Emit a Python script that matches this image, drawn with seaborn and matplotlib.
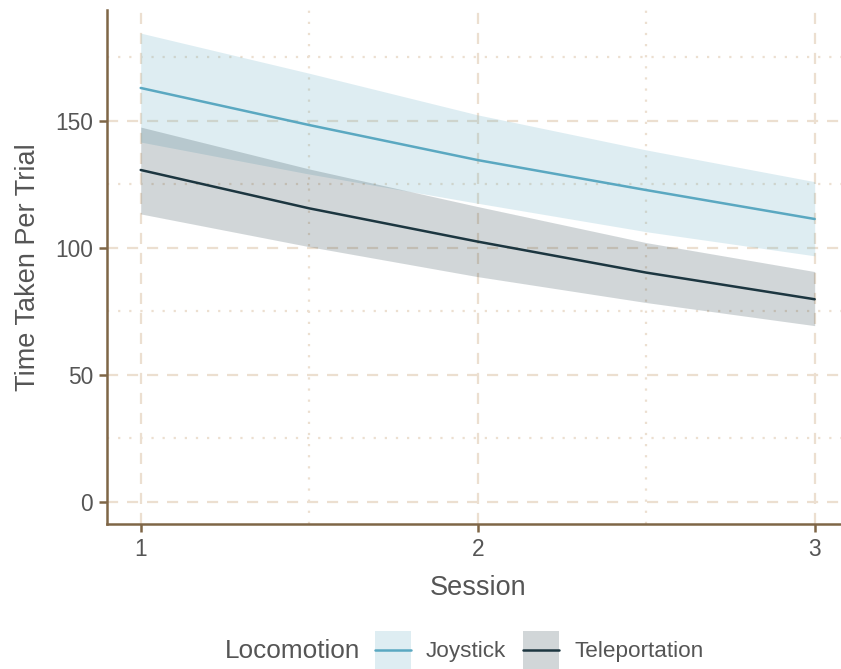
import numpy as np
import pandas as pd
import matplotlib
matplotlib.use("Agg")
import matplotlib.pyplot as plt
import seaborn as sns
from matplotlib.lines import Line2D
from matplotlib.patches import Patch
from matplotlib.legend_handler import HandlerTuple, HandlerLine2D

# ---- data ----
session = [1, 1.5, 2, 2.5, 3]
joy_mean = [163.0, 148.4, 134.6, 122.8, 111.4]
joy_low = [141.7, 129.1, 117.6, 106.4, 96.9]
joy_high = [184.6, 168.8, 152.4, 138.6, 126.1]
tel_mean = [130.7, 115.6, 102.5, 90.3, 79.8]
tel_low = [113.4, 100.5, 88.7, 78.5, 69.4]
tel_high = [147.6, 131.1, 116.3, 102.1, 90.7]
groups = ["Joystick", "Teleportation"]
colors = {"Joystick": "#5aa8c1", "Teleportation": "#1c3640"}
x_ticks = [1, 2, 3]
y_ticks = [0, 50, 100, 150]

df = pd.DataFrame({
    "Session": session * 2,
    "Time": joy_mean + tel_mean,
    "Low": joy_low + tel_low,
    "High": joy_high + tel_high,
    "Locomotion": ["Joystick"] * len(session) + ["Teleportation"] * len(session),
})

sns.set_theme(style="white")
plt.rcParams["font.family"] = ["Liberation Sans", "DejaVu Sans"]

W, H = 841, 669
fig = plt.figure(figsize=(W / 100, H / 100), dpi=100)
x0, x1 = 0.9, 3.1
y0, y1 = -8.7, 193.7
left_px, bottom_px, top_px = 107, 524, 10
width_px = (x1 - x0) * 337
ax = fig.add_axes([left_px / W, 1 - bottom_px / H, width_px / W, (bottom_px - top_px) / H])

grid_col = "#ecdfd0"
for v in [1, 2, 3]:
    ax.axvline(v, color=grid_col, lw=1.6, ls=(0, (5, 4)), zorder=0)
for v in [1.5, 2.5]:
    ax.axvline(v, color=grid_col, lw=1.6, ls=(0, (1, 4)), zorder=0)
for v in [0, 50, 100, 150]:
    ax.axhline(v, color=grid_col, lw=1.6, ls=(0, (5, 4)), zorder=0)
for v in [25, 75, 125, 175]:
    ax.axhline(v, color=grid_col, lw=1.6, ls=(0, (1, 4)), zorder=0)

for g in groups:
    sub = df[df["Locomotion"] == g]
    ax.fill_between(sub["Session"], sub["Low"], sub["High"], color=colors[g], alpha=0.2, lw=0, zorder=1)

sns.lineplot(data=df, x="Session", y="Time", hue="Locomotion", palette=colors,
             ax=ax, lw=1.8, legend=False, zorder=2)

ax.set_xlim(x0, x1)
ax.set_ylim(y0, y1)
ax.set_xticks(x_ticks)
ax.set_yticks(y_ticks)
ax.set_xticklabels([str(t) for t in x_ticks])
ax.set_yticklabels([str(t) for t in y_ticks])

spine_col = "#7f6647"
for s in ["top", "right"]:
    ax.spines[s].set_visible(False)
for s in ["left", "bottom"]:
    ax.spines[s].set_color(spine_col)
    ax.spines[s].set_linewidth(1.8)
ax.tick_params(axis="both", colors=spine_col, length=6, width=1.8, labelsize=16.4,
               labelcolor="#555555", direction="out", pad=4)
ax.tick_params(axis="x", bottom=True)
ax.tick_params(axis="y", left=True)
ax.set_xlabel("Session", fontsize=19.5, color="#555555", labelpad=10)
ax.set_ylabel("Time Taken Per Trial", fontsize=19.5, color="#555555", labelpad=10)


class CenteredLine(HandlerLine2D):
    def create_artists(self, legend, orig_handle, xdescent, ydescent, width, height, fontsize, trans):
        arts = super().create_artists(legend, orig_handle, xdescent, ydescent, width, height, fontsize, trans)
        for a in arts:
            xd = np.asarray(a.get_xdata(), float)
            a.set_ydata(np.full_like(xd, height / 2 - ydescent))
        return arts


handles = []
for g in groups:
    handles.append((Patch(facecolor=colors[g], alpha=0.2, edgecolor="none"),
                    Line2D([0], [0], color=colors[g], lw=1.8)))
fig.text(225 / W, 1 - 651 / H, "Locomotion", fontsize=18.8, color="#555555", va="center", ha="left")
fs = 16.2
fpx = fs * 100 / 72
hh = (38 / fpx - 0.245) / 0.65
leg = fig.legend(handles, groups,
                 handler_map={tuple: HandlerTuple(ndivide=1, pad=0), Line2D: CenteredLine()},
                 loc="center left", bbox_to_anchor=(375 / W, 1 - 650 / H), ncol=2, frameon=False,
                 fontsize=fs, handlelength=36 / fpx, handleheight=hh, handletextpad=15 / fpx,
                 columnspacing=17 / fpx, borderpad=0, borderaxespad=0)
for t in leg.get_texts():
    t.set_color("#555555")

fig.savefig("out.png", dpi=100)
